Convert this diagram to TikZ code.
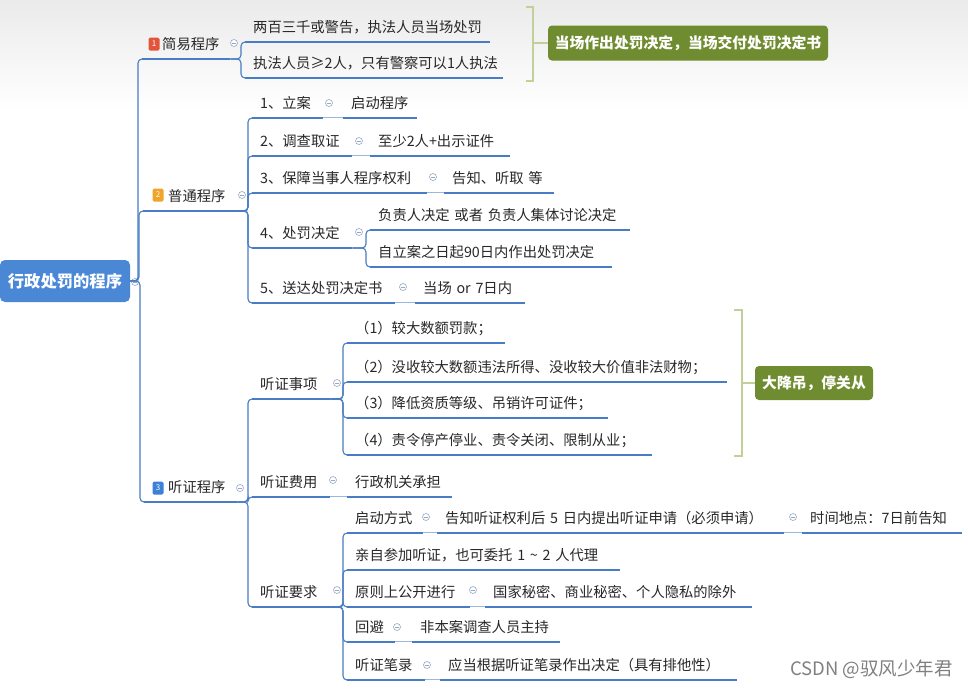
\documentclass[tikz,border=0pt]{standalone}
\usepackage{fontspec}
\setmainfont{Noto Sans CJK SC}
\definecolor{lineblue}{RGB}{72,124,196}
\definecolor{rootblue}{RGB}{74,136,214}
\definecolor{txt}{RGB}{40,40,40}
\definecolor{olivebox}{RGB}{112,140,48}
\definecolor{brk}{RGB}{192,208,152}
\definecolor{mkcol}{RGB}{150,168,196}
\definecolor{iconred}{RGB}{226,84,60}
\definecolor{iconorange}{RGB}{242,164,40}
\definecolor{iconblue}{RGB}{60,128,216}
\begin{document}
\begin{tikzpicture}[x=1pt,y=-1pt,
  topic/.style={anchor=south west, inner xsep=8pt, inner ysep=6pt, text height=11pt, text depth=3pt,
    text width=#1, align=left, font=\fontsize{14.3}{16}\selectfont, text=txt},
  uline/.style={draw=lineblue, line width=2.4pt},
  branch/.style={draw=lineblue, line width=1.1pt, rounded corners=4pt},
  joinline/.style={draw=lineblue!55, line width=0.8pt},
  mk/.style={circle, draw=mkcol, line width=0.6pt, minimum size=7pt, inner sep=0pt, fill=white,
    path picture={\draw[mkcol, line width=0.5pt] ([xshift=-2pt]path picture bounding box.center) -- ([xshift=2pt]path picture bounding box.center);}},
  icn/.style={fill=#1, rounded corners=1.5pt, minimum width=11pt, minimum height=13pt, inner sep=0pt,
    text=white, font=\fontsize{8}{8}\selectfont},
  gbox/.style={fill=olivebox, rounded corners=4pt, text=white, inner sep=0pt,
    font=\fontsize{14.8}{16}\selectfont\bfseries},
  bracketline/.style={draw=brk, line width=2.5pt}
]
\useasboundingbox (0,0) rectangle (968,689);
\fill[white] (0,0) rectangle (968,689);
\shade[top color=black!8, bottom color=white] (0,0) rectangle (968,110);

% root
\node[fill=rootblue, rounded corners=5pt, minimum width=130pt, minimum height=42pt, inner sep=0pt,
  text=white, font=\fontsize{16.3}{18}\selectfont\bfseries] (root) at (65,281) {行政处罚的程序};
\node[mk] (mroot) at (135,282) {};

% level 1
\node[topic=72] (jy) at (142,59) {\hspace*{12pt}简易程序};
\node[topic=77] (pt) at (143,211) {\hspace*{17pt}普通程序};
\node[topic=77] (tz) at (144,502) {\hspace*{16pt}听证程序};
\node[icn=iconred] (i1) at (154,44) {1};
\node[icn=iconorange] (i2) at (158,195) {2};
\node[icn=iconblue] (i3) at (158,488) {3};
\node[mk] (mjy) at (234,43) {};
\node[mk] (mpt) at (242,195) {};
\node[mk] (mtz) at (240,488) {};

% 简易程序 children
\node[topic=229] (j1) at (245,42) {两百三千或警告，执法人员当场处罚};
\node[topic=242] (j2) at (245,78) {执法人员≥2人，只有警察可以1人执法};

% 普通程序 children
\node[topic=55] (p1) at (252,118) {1、立案};
\node[mk] (mp1) at (329,103) {};
\node[topic=58] (p1a) at (343,118) {启动程序};
\node[topic=84] (p2) at (252,156) {2、调查取证};
\node[mk] (mp2) at (359,141) {};
\node[topic=124] (p2a) at (370,156) {至少2人+出示证件};
\node[topic=159] (p3) at (252,193) {3、保障当事人程序权利};
\node[mk] (mp3) at (433,177) {};
\node[topic=94] (p3a) at (444,193) {告知、听取~等};
\node[topic=84] (p4) at (252,248) {4、处罚决定};
\node[mk] (mp4) at (359,232) {};
\node[topic=244] (p4a) at (370,230) {负责人决定~或者~负责人集体讨论决定};
\node[topic=226] (p4b) at (370,267) {自立案之日起90日内作出处罚决定};
\node[topic=127] (p5) at (252,303) {5、送达处罚决定书};
\node[mk] (mp5) at (403,287) {};
\node[topic=94] (p5a) at (415,303) {当场~or~7日内};

% 听证程序 children
\node[topic=62] (t1) at (252,399) {听证事项};
\node[mk] (mt1) at (337,383) {};
\node[topic=142] (t1a) at (347,343) {（1）较大数额罚款；};
\node[topic=364] (t1b) at (347,382) {（2）没收较大数额违法所得、没收较大价值非法财物；};
\node[topic=245] (t1c) at (347,418) {（3）降低资质等级、吊销许可证件；};
\node[topic=289] (t1d) at (347,455) {（4）责令停产停业、责令关闭、限制从业；};
\node[topic=62] (t2) at (252,497) {听证费用};
\node[mk] (mt2) at (333,480) {};
\node[topic=89] (t2a) at (347,497) {行政机关承担};
\node[topic=62] (t3) at (252,607) {听证要求};
\node[mk] (mt3) at (337,590) {};
\node[topic=60] (t3a) at (347,533) {启动方式};
\node[mk] (mt3a) at (426,517) {};
\node[topic=331] (t3a1) at (437,533) {告知听证权利后~5~日内提出听证申请（必须申请）};
\node[mk] (mt3a1) at (793,517) {};
\node[topic=144] (t3a2) at (802,533) {时间地点：7日前告知};
\node[topic=257] (t3b) at (347,570) {亲自参加听证，也可委托~1~\textasciitilde~2~人代理};
\node[topic=107] (t3c) at (347,607) {原则上公开进行};
\node[mk] (mt3c) at (473,590) {};
\node[topic=251] (t3c1) at (485,607) {国家秘密、商业秘密、个人隐私的除外};
\node[topic=32] (t3d) at (347,642) {回避};
\node[mk] (mt3d) at (397,627) {};
\node[topic=132] (t3d1) at (412,642) {非本案调查人员主持};
\node[topic=62] (t3e) at (347,680) {听证笔录};
\node[mk] (mt3e) at (427,665) {};
\node[topic=281] (t3e1) at (440,680) {应当根据听证笔录作出决定（具有排他性）};

% underlines
\foreach \n in {jy,pt,tz,j1,j2,p1,p1a,p2,p2a,p3,p3a,p4,p4a,p4b,p5,p5a,
  t1,t1a,t1b,t1c,t1d,t2,t2a,t3,t3a,t3a1,t3a2,t3b,t3c,t3c1,t3d,t3d1,t3e,t3e1}
  \draw[uline] (\n.south west) -- (\n.south east);

% branch connectors
\foreach \c in {jy,pt,tz}
  \draw[branch] (root.east) -| ([xshift=-4pt]\c.south west) -- (\c.south west);
\foreach \c in {j1,j2}
  \draw[branch] (jy.south east) -| ([xshift=-4pt]\c.south west) -- (\c.south west);
\foreach \c in {p1,p2,p3,p4,p5}
  \draw[branch] (pt.south east) -| ([xshift=-4pt]\c.south west) -- (\c.south west);
\foreach \c in {p4a,p4b}
  \draw[branch] (p4.south east) -| ([xshift=-4pt]\c.south west) -- (\c.south west);
\foreach \c in {t1,t2,t3}
  \draw[branch] (tz.south east) -| ([xshift=-4pt]\c.south west) -- (\c.south west);
\foreach \c in {t1a,t1b,t1c,t1d}
  \draw[branch] (t1.south east) -| ([xshift=-4pt]\c.south west) -- (\c.south west);
\foreach \c in {t3a,t3b,t3c,t3d,t3e}
  \draw[branch] (t3.south east) -| ([xshift=-4pt]\c.south west) -- (\c.south west);

% inline joins
\foreach \a/\b in {p1/p1a,p2/p2a,p3/p3a,p5/p5a,t2/t2a,t3a/t3a1,t3a1/t3a2,t3c/t3c1,t3d/t3d1,t3e/t3e1}
  \draw[joinline] ([yshift=1pt]\a.south east) -- ([yshift=1pt]\b.south west);

% summary brackets and boxes
\node[gbox, minimum width=280pt, minimum height=35pt] (g1) at (688,43) {当场作出处罚决定，当场交付处罚决定书};
\draw[bracketline] (526,7) -- (533,7) -- (533,81) -- (526,81);
\draw[bracketline] (533,43) -- (g1.west);
\node[gbox, minimum width=118pt, minimum height=34pt] (g2) at (814,383) {大降吊，停关从};
\draw[bracketline] (734,310) -- (742,310) -- (742,456) -- (734,456);
\draw[bracketline] (742,383) -- (g2.west);

% watermark
\node[anchor=base east, inner sep=0pt, text=black!50, font=\fontsize{18.5}{20}\selectfont] (wm) at (953,675) {CSDN @驭风少年君};
\end{tikzpicture}
\end{document}
